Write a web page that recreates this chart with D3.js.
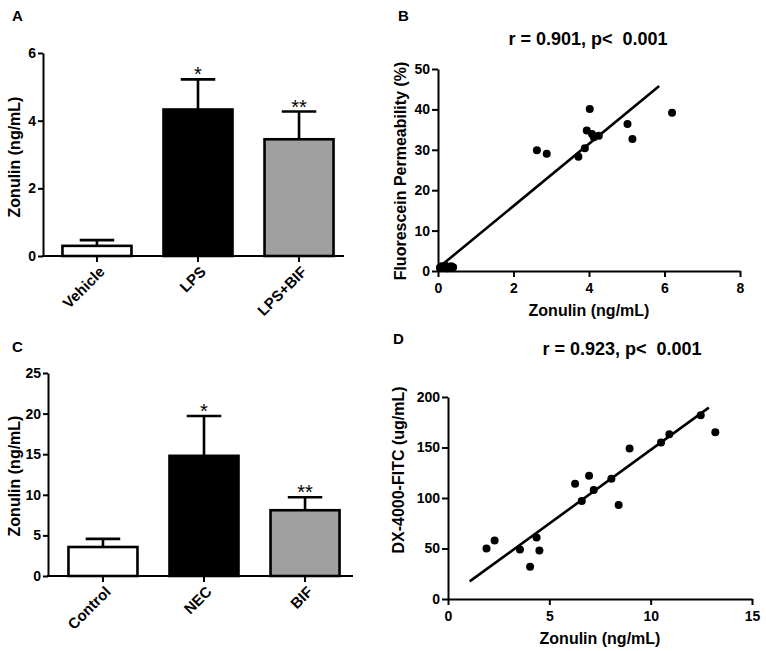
<!DOCTYPE html>
<html><head><meta charset="utf-8">
<script src="https://cdn.jsdelivr.net/npm/d3@7"></script>
<style>
html,body{margin:0;padding:0;background:#fff;}
svg{display:block;font-family:"Liberation Sans",Arial,sans-serif;}
text.ttl{white-space:pre;}
</style></head>
<body>
<svg id="chart" width="766" height="651"></svg>
<script>
// ---------- Data ----------
// Panel A (bar)
const catsA = ["Vehicle", "LPS", "LPS+BIF"];
const meanA = [0.30, 4.33, 3.45];
const semA  = [0.17, 0.89, 0.82];
const sigA  = ["", "*", "**"];
const ticksA = [0, 2, 4, 6];
// Panel C (bar)
const catsC = ["Control", "NEC", "BIF"];
const meanC = [3.57, 14.8, 8.1];
const semC  = [1.0, 4.9, 1.6];
const sigC  = ["", "*", "**"];
const ticksC = [0, 5, 10, 15, 20, 25];
const barFills = ["#ffffff", "#000000", "#a0a0a0"];
// Panel B (scatter)
const zonB  = [0.05, 0.1, 0.15, 0.2, 0.25, 0.3, 0.35, 0.4, 2.62, 2.88, 3.72, 3.89, 4.02, 3.94, 4.08, 4.13, 4.26, 5.02, 5.15, 6.2];
const permB = [0.8, 1.2, 0.9, 1.3, 0.7, 1.0, 1.2, 0.9, 29.9, 29.0, 28.3, 30.4, 40.1, 34.8, 33.9, 33.1, 33.5, 36.4, 32.7, 39.2];
const fitBx = [0.05, 5.86];
const fitBy = [1.1, 45.8];
const ticksBx = [0, 2, 4, 6, 8];
const ticksBy = [0, 10, 20, 30, 40, 50];
const titleB = "r = 0.901, p<  0.001";
// Panel D (scatter)
const zonD = [1.9, 2.3, 3.55, 4.05, 4.37, 4.51, 6.27, 6.6, 6.96, 7.19, 8.06, 8.42, 8.96, 10.51, 10.92, 12.47, 13.19];
const dxD  = [50, 58, 49, 32, 61, 48, 114, 97, 122, 108, 119, 93, 149, 155, 163, 182, 165];
const fitDx = [1.07, 12.87];
const fitDy = [17.4, 189.5];
const ticksDx = [0, 5, 10, 15];
const ticksDy = [0, 50, 100, 150, 200];
const titleD = "r = 0.923, p<  0.001";

const svg = d3.select("#chart");
const FONT_TICK = 14, FONT_TITLE = 16;
const fmt = d3.format("d");

function styleAxis(g) {
  g.selectAll("path.domain").attr("stroke", "#000").attr("stroke-width", 2);
  g.selectAll(".tick line").attr("stroke", "#000").attr("stroke-width", 2);
  g.selectAll(".tick text").attr("fill", "#000").attr("font-size", FONT_TICK)
    .attr("font-weight", "bold").attr("font-family", "'Liberation Sans',Arial,sans-serif");
}

function panelLabel(txt, x, y) {
  svg.append("text").attr("x", x).attr("y", y).text(txt)
    .attr("font-size", 15).attr("font-weight", "bold");
}

function yTitle(txt, cx, cy) {
  svg.append("text").attr("transform", `translate(${cx},${cy}) rotate(-90)`)
    .attr("text-anchor", "middle").attr("dy", "0.35em")
    .attr("font-size", FONT_TITLE).attr("font-weight", "bold").text(txt);
}

function barPanel(cfg) {
  const { cats, mean, sem, sig, ticks, yDom, yRange, axisX, bandRange } = cfg;
  const y = d3.scaleLinear().domain(yDom).range(yRange);
  const x = d3.scaleBand().domain(cats).range(bandRange).paddingInner(0.317).paddingOuter(0.158);
  const g = svg.append("g");
  g.selectAll("rect.bar").data(cats).join("rect").attr("class", "bar")
    .attr("x", d => x(d)).attr("width", x.bandwidth())
    .attr("y", (d, i) => y(mean[i])).attr("height", (d, i) => y(0) - y(mean[i]))
    .attr("fill", (d, i) => barFills[i]).attr("stroke", "#000").attr("stroke-width", 2.6);
  const cap = x.bandwidth() * 0.5;
  g.selectAll("line.err").data(cats).join("line").attr("class", "err")
    .attr("x1", d => x(d) + x.bandwidth() / 2).attr("x2", d => x(d) + x.bandwidth() / 2)
    .attr("y1", (d, i) => y(mean[i])).attr("y2", (d, i) => y(mean[i] + sem[i]))
    .attr("stroke", "#000").attr("stroke-width", 2.6);
  g.selectAll("line.cap").data(cats).join("line").attr("class", "cap")
    .attr("x1", d => x(d) + x.bandwidth() / 2 - cap / 2).attr("x2", d => x(d) + x.bandwidth() / 2 + cap / 2)
    .attr("y1", (d, i) => y(mean[i] + sem[i])).attr("y2", (d, i) => y(mean[i] + sem[i]))
    .attr("stroke", "#000").attr("stroke-width", 2.6);
  g.selectAll("text.sig").data(cats).join("text").attr("class", "sig")
    .attr("x", d => x(d) + x.bandwidth() / 2).attr("y", (d, i) => y(mean[i] + sem[i]) + 2)
    .attr("text-anchor", "middle").attr("font-size", 20).text((d, i) => sig[i]);
  const ya = svg.append("g").attr("transform", `translate(${axisX[0]},0)`)
    .call(d3.axisLeft(y).tickValues(ticks).tickFormat(fmt).tickSize(5).tickPadding(2).tickSizeOuter(0));
  styleAxis(ya);
  svg.append("line").attr("x1", axisX[0] - 1).attr("x2", axisX[1]).attr("y1", y(0)).attr("y2", y(0))
    .attr("stroke", "#000").attr("stroke-width", 2);
  const xa = svg.append("g").attr("transform", `translate(0,${y(0)})`);
  xa.selectAll("line").data(cats).join("line")
    .attr("x1", d => x(d) + x.bandwidth() / 2).attr("x2", d => x(d) + x.bandwidth() / 2)
    .attr("y1", 0).attr("y2", 6).attr("stroke", "#000").attr("stroke-width", 2);
  xa.selectAll("text").data(cats).join("text")
    .attr("transform", d => `translate(${x(d) + x.bandwidth() / 2 + 5},${13}) rotate(-45)`)
    .attr("text-anchor", "end").attr("dy", "0.35em")
    .attr("font-size", 15).attr("font-weight", "bold").text(d => d);
}

function scatterPanel(cfg) {
  const { xs, ys, fx, fy, xDom, xRange, yDom, yRange, xt, yt, title, titleX, titleY } = cfg;
  const x = d3.scaleLinear().domain(xDom).range(xRange);
  const y = d3.scaleLinear().domain(yDom).range(yRange);
  const ya = svg.append("g").attr("transform", `translate(${xRange[0]},0)`)
    .call(d3.axisLeft(y).tickValues(yt).tickFormat(fmt).tickSize(6).tickPadding(2).tickSizeOuter(0));
  styleAxis(ya);
  const xa = svg.append("g").attr("transform", `translate(0,${yRange[0]})`)
    .call(d3.axisBottom(x).tickValues(xt).tickFormat(fmt).tickSize(6).tickPadding(6).tickSizeOuter(0));
  styleAxis(xa);
  const line = d3.line().x(d => x(d[0])).y(d => y(d[1]));
  svg.append("path").datum(fx.map((v, i) => [v, fy[i]])).attr("d", line)
    .attr("stroke", "#000").attr("stroke-width", 2.6).attr("fill", "none");
  svg.append("g").selectAll("circle").data(xs).join("circle")
    .attr("cx", d => x(d)).attr("cy", (d, i) => y(ys[i])).attr("r", 4).attr("fill", "#000");
  svg.append("text").attr("class", "ttl").attr("x", titleX).attr("y", titleY).attr("text-anchor", "middle")
    .attr("font-size", 18).attr("font-weight", "bold").text(title);
}

// Panel A
panelLabel("A", 12, 21);
barPanel({ cats: catsA, mean: meanA, sem: semA, sig: sigA, ticks: ticksA,
  yDom: [0, 6], yRange: [256, 53], axisX: [43, 344], bandRange: [46.5, 349.5] });
yTitle("Zonulin (ng/mL)", 14, 157);

// Panel C
panelLabel("C", 12, 352);
barPanel({ cats: catsC, mean: meanC, sem: semC, sig: sigC, ticks: ticksC,
  yDom: [0, 25], yRange: [576, 373], axisX: [48, 353], bandRange: [52.5, 355.5] });
yTitle("Zonulin (ng/mL)", 14, 476);

// Panel B
panelLabel("B", 398, 21);
scatterPanel({ xs: zonB, ys: permB, fx: fitBx, fy: fitBy, xDom: [0, 8], xRange: [438, 740],
  yDom: [0, 50], yRange: [271, 69], xt: ticksBx, yt: ticksBy, title: titleB, titleX: 588, titleY: 45 });
yTitle("Fluorescein Permeability (%)", 400, 171);
svg.append("text").attr("x", 589).attr("y", 316).attr("text-anchor", "middle")
  .attr("font-size", FONT_TITLE).attr("font-weight", "bold").text("Zonulin (ng/mL)");

// Panel D
panelLabel("D", 393, 344);
scatterPanel({ xs: zonD, ys: dxD, fx: fitDx, fy: fitDy, xDom: [0, 15], xRange: [448, 752],
  yDom: [0, 200], yRange: [599, 397], xt: ticksDx, yt: ticksDy, title: titleD, titleX: 622, titleY: 355 });
yTitle("DX-4000-FITC (ug/mL)", 398, 470);
svg.append("text").attr("x", 600).attr("y", 644).attr("text-anchor", "middle")
  .attr("font-size", FONT_TITLE).attr("font-weight", "bold").text("Zonulin (ng/mL)");
</script>
</body></html>
